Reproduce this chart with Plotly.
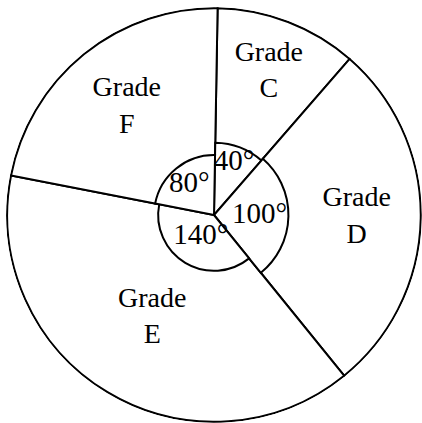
import plotly.graph_objects as go

# grades and their angles in the pie (degrees)
grades = ["C", "D", "E", "F"]
angles = [40, 100, 140, 80]

# styling: radius of the little angle marker per slice, label radii
marker_r = [0.35, 0.36, 0.27, 0.29]
name_r = [0.74, 0.69, 0.58, 0.67]
angle_r = [0.27, 0.22, 0.125, 0.19]

start = 1  # slice C starts just right of 12 o'clock

mids = []
acc = start
for a in angles:
    mids.append(acc + a / 2)
    acc += a

name_font = dict(family="Liberation Serif", size=28, color="black")
deg_font = dict(family="Liberation Serif", size=29, color="black")
line = dict(color="black", width=2)

fig = go.Figure()

# main slices
fig.add_trace(go.Barpolar(
    theta=mids, r=[1] * len(angles), width=angles,
    marker=dict(color="white", line=line),
    hoverinfo="skip",
))

# angle markers around the centre
fig.add_trace(go.Barpolar(
    theta=mids, r=marker_r, width=angles,
    marker=dict(color="white", line=line),
    hoverinfo="skip",
))

fig.add_trace(go.Scatterpolar(
    theta=mids, r=name_r, mode="text",
    text=["Grade<br>" + g for g in grades],
    textfont=name_font, hoverinfo="skip",
))

fig.add_trace(go.Scatterpolar(
    theta=mids, r=angle_r, mode="text",
    text=[f"{a}°" for a in angles],
    textfont=deg_font, hoverinfo="skip",
))

fig.update_layout(
    width=422, height=423,
    margin=dict(l=0, r=0, t=0, b=0),
    paper_bgcolor="white",
    showlegend=False,
    polar=dict(
        domain=dict(x=[6 / 422, 1.0], y=[0.0, 416 / 423]),
        bgcolor="white",
        barmode="overlay",
        hole=0,
        radialaxis=dict(visible=False, range=[0, 1.006]),
        angularaxis=dict(
            rotation=90, direction="clockwise",
            showgrid=False, showline=False, ticks="", showticklabels=False,
        ),
    ),
)

# page has a default body margin; drop it so the chart sits at the corner
fig.write_html("out.html", config={"displayModeBar": False},
               post_script="document.body.style.margin='0';")
